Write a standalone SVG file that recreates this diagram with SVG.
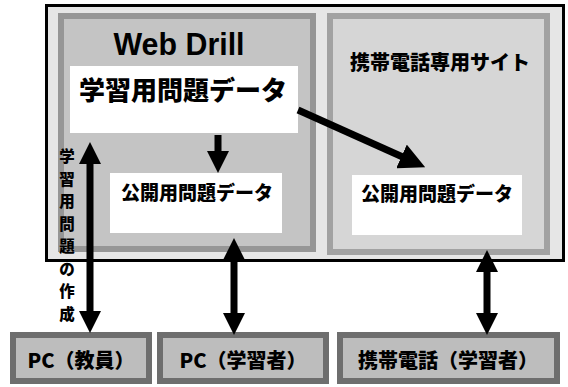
<svg xmlns="http://www.w3.org/2000/svg" width="568" height="387" viewBox="0 0 568 387">
<defs>
<marker id="ah" viewBox="0 0 22 22" markerWidth="22" markerHeight="22" refX="2" refY="11" orient="auto-start-reverse" markerUnits="userSpaceOnUse">
<path d="M0,0 L22,11 L0,22 z" fill="#000"/>
</marker>
<marker id="ahL" viewBox="0 0 26 26" markerWidth="26" markerHeight="26" refX="2" refY="13" orient="auto-start-reverse" markerUnits="userSpaceOnUse">
<path d="M0,0 L26,13 L0,26 z" fill="#000"/>
</marker>
</defs>
<style>
.jp{font-family:"Noto Sans CJK JP","Liberation Sans",sans-serif;font-weight:900;fill:#000;text-anchor:middle;dominant-baseline:central}
.en{font-family:"Liberation Sans",Arial,sans-serif;font-weight:bold;fill:#000;text-anchor:middle}
.white{fill:#fff}
.bot{fill:#bdbdbd;stroke:#6e6e6e;stroke-width:6}
.con{stroke:#000;stroke-width:7;fill:none}
.vt{font-size:15.5px}
</style>
<rect width="568" height="387" fill="#fff"/>
<g id="outer">
<rect x="46.5" y="5.5" width="517" height="255" fill="#e6e6e6" stroke="#000" stroke-width="3"/>
</g>
<g id="webdrill">
<rect x="61" y="16" width="252" height="233" fill="#c4c4c4" stroke="#969696" stroke-width="6"/>
<text class="en" x="179" y="55" font-size="32" textLength="131" lengthAdjust="spacingAndGlyphs">Web Drill</text>
</g>
<g id="mobile-site">
<rect x="330" y="16" width="217" height="236" fill="#d6d6d6" stroke="#a2a2a2" stroke-width="6"/>
<text class="jp" x="440" y="61" font-size="20">携帯電話専用サイト</text>
</g>
<g id="study-data">
<rect class="white" x="70" y="66" width="228" height="67"/>
<text class="jp" x="183" y="88" font-size="26">学習用問題データ</text>
</g>
<g id="public-data-web">
<rect class="white" x="110" y="173" width="172" height="60"/>
<text class="jp" x="197" y="191" font-size="19">公開用問題データ</text>
</g>
<g id="public-data-mobile">
<rect class="white" x="352" y="175" width="170" height="60"/>
<text class="jp" x="437" y="192" font-size="19">公開用問題データ</text>
</g>
<g id="pc-teacher">
<rect class="bot" x="13" y="335" width="136" height="46"/>
<text class="jp" x="81" y="359" font-size="20">PC（教員）</text>
</g>
<g id="pc-learner">
<rect class="bot" x="160" y="335" width="166" height="46"/>
<text class="jp" x="243" y="359" font-size="20">PC（学習者）</text>
</g>
<g id="mobile-learner">
<rect class="bot" x="340" y="335" width="217" height="46"/>
<text class="jp" x="448" y="359" font-size="20">携帯電話（学習者）</text>
</g>
<g id="label-create">
<text class="jp vt" x="67" y="155">学</text>
<text class="jp vt" x="67" y="177.5">習</text>
<text class="jp vt" x="67" y="200">用</text>
<text class="jp vt" x="67" y="222.5">問</text>
<text class="jp vt" x="67" y="245">題</text>
<text class="jp vt" x="67" y="267.5">の</text>
<text class="jp vt" x="67" y="290">作</text>
<text class="jp vt" x="67" y="312.5">成</text>
</g>
<g id="connectors">
<line class="con" x1="218" y1="135" x2="218" y2="153" marker-end="url(#ah)"/>
<line class="con" x1="298" y1="110" x2="403.3" y2="157.3" marker-end="url(#ahL)"/>
<line class="con" x1="90" y1="162" x2="90" y2="313" marker-start="url(#ah)" marker-end="url(#ah)"/>
<line class="con" x1="234" y1="258" x2="234" y2="315" marker-start="url(#ah)" marker-end="url(#ah)"/>
<line class="con" x1="487" y1="270" x2="487" y2="315" marker-start="url(#ah)" marker-end="url(#ah)"/>
</g>
</svg>
